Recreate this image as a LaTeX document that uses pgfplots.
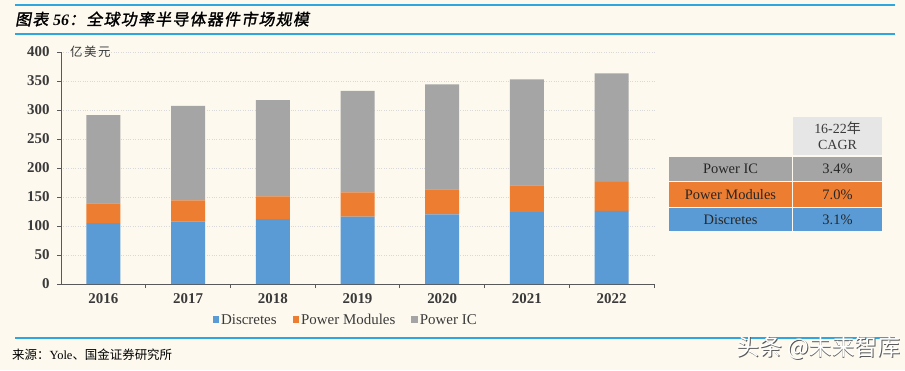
\documentclass[border=0pt]{standalone}
\usepackage{fontspec}
\setmainfont{Liberation Serif}
\newfontfamily\cjk{Noto Sans CJK SC}
\newfontfamily\cjkwide[LetterSpace=12]{Noto Sans CJK SC}
\newfontfamily\cjktitle[FakeSlant=0.18,FakeBold=1.5,LetterSpace=8]{Noto Sans CJK SC}
\usepackage{pgfplots}
\usepackage{pgfplotstable}
\pgfplotsset{compat=1.18}
\definecolor{bgc}{HTML}{FDF9EE}
\definecolor{titleblue}{HTML}{2EA7E0}
\definecolor{cblue}{HTML}{5B9BD5}
\definecolor{corange}{HTML}{ED7D31}
\definecolor{cgray}{HTML}{A5A5A5}
\definecolor{hdrgray}{HTML}{E7E6E6}
\definecolor{axisgray}{HTML}{595959}
\definecolor{gridgray}{HTML}{D9D9D9}
\definecolor{txt}{HTML}{3A3A3A}

\pgfplotstableread{
x d m ic
0 105 34 152
1 108 36 163
2 112 39 166
3 116 42 175
4 120 43 181
5 124 46 183
6 126 50 187
}\data

\begin{document}
\begin{tikzpicture}[x=1bp,y=1bp]
\useasboundingbox (0,0) rectangle (905,370);
\fill[bgc] (0,0) rectangle (905,370);
% title bar
\draw[titleblue, line width=2bp] (15,365) -- (895,365);
\draw[titleblue, line width=2bp] (15,336) -- (895,336);
\node[anchor=west, inner sep=0, text=black] at (15,351)
  {\fontsize{16}{16}\selectfont\cjktitle 图表 {\rmfamily\bfseries\itshape 56}：全球功率半导体器件市场规模};
% bottom rule
\draw[titleblue, line width=2bp] (15,32) -- (895,32);
\node[anchor=west, inner sep=0, text=black] at (12,15)
  {\fontsize{12.5}{12.5}\selectfont\cjk 来源：{\rmfamily Yole}、国金证券研究所};
% watermark
\node[anchor=east, inner sep=0, text=gray!70!black] at (901.7,21.3)
  {\fontsize{23}{23}\selectfont\cjk 头条 @未来智库};
\node[anchor=east, inner sep=0, text=white] at (901,22)
  {\fontsize{23}{23}\selectfont\cjk 头条 @未来智库};

\begin{axis}[
  at={(61bp,86bp)}, anchor=south west,
  scale only axis, width=593bp, height=232bp,
  xmin=-0.5, xmax=6.5, ymin=0, ymax=400,
  ybar stacked, bar width=34bp,
  axis x line*=bottom, axis y line*=left,
  axis line style={draw=axisgray, line width=0.9bp},
  xtick={0,...,6},
  xticklabels={2016,2017,2018,2019,2020,2021,2022},
  major x tick style={draw=none},
  extra x ticks={0.5,1.5,...,6.5},
  extra x tick labels={},
  extra x tick style={major tick length=4bp, tick align=outside,
     major x tick style={draw=axisgray, line width=0.9bp}, xmajorgrids=false},
  ytick={0,50,...,400},
  ymajorgrids,
  grid style={dotted, gridgray, line width=0.8bp},
  tick align=outside,
  major tick length=4bp,
  y tick style={draw=axisgray, line width=0.9bp},
  /pgf/number format/assume math mode=true,
  ticklabel style={font=\bfseries\fontsize{15}{15}\selectfont, text=txt},
  xticklabel style={yshift=-2bp},
  yticklabel style={xshift=-4bp},
  legend style={at={(axis description cs:0.48,-0.155)}, anchor=center,
    draw=none, fill=none, legend columns=3,
    font=\fontsize{15}{15}\selectfont, text=txt,
    /tikz/every even column/.append style={column sep=14bp}},
  legend cell align=left,
]
\addplot[fill=cblue, draw=none,
  legend image code/.code={\fill[cblue] (0bp,-3bp) rectangle (6.5bp,3.5bp);}]
  table[x=x, y=d] {\data};
\addlegendentry{Discretes}
\addplot[fill=corange, draw=none,
  legend image code/.code={\fill[corange] (0bp,-3bp) rectangle (6.5bp,3.5bp);}]
  table[x=x, y=m] {\data};
\addlegendentry{Power Modules}
\addplot[fill=cgray, draw=none,
  legend image code/.code={\fill[cgray] (0bp,-3bp) rectangle (6.5bp,3.5bp);}]
  table[x=x, y=ic] {\data};
\addlegendentry{Power IC}
\end{axis}
% unit label
\node[anchor=west, inner sep=0, text=txt] at (70,318)
  {\fontsize{12.5}{12.5}\selectfont\cjkwide 亿美元};
% CAGR table
\fill[hdrgray] (793,215) rectangle (882,253);
\node[align=center, inner sep=0, text=txt, font=\fontsize{14}{16}\selectfont] at (837.5,234)
  {16-22{\cjk 年}\\CAGR};
\fill[cgray] (669,189) rectangle (792,213);
\fill[cgray] (793,189) rectangle (882,213);
\fill[corange] (669,163.5) rectangle (792,188);
\fill[corange] (793,163.5) rectangle (882,188);
\fill[cblue] (669,139) rectangle (792,162.5);
\fill[cblue] (793,139) rectangle (882,162.5);
\node[inner sep=0, text=black!85, font=\fontsize{14.5}{14.5}\selectfont] at (730.5,201) {Power IC};
\node[inner sep=0, text=black!85, font=\fontsize{14.5}{14.5}\selectfont] at (837.5,201) {3.4\%};
\node[inner sep=0, text=black!85, font=\fontsize{14.5}{14.5}\selectfont] at (730.5,175.7) {Power Modules};
\node[inner sep=0, text=black!85, font=\fontsize{14.5}{14.5}\selectfont] at (837.5,175.7) {7.0\%};
\node[inner sep=0, text=black!85, font=\fontsize{14.5}{14.5}\selectfont] at (730.5,150.7) {Discretes};
\node[inner sep=0, text=black!85, font=\fontsize{14.5}{14.5}\selectfont] at (837.5,150.7) {3.1\%};
\end{tikzpicture}
\end{document}
